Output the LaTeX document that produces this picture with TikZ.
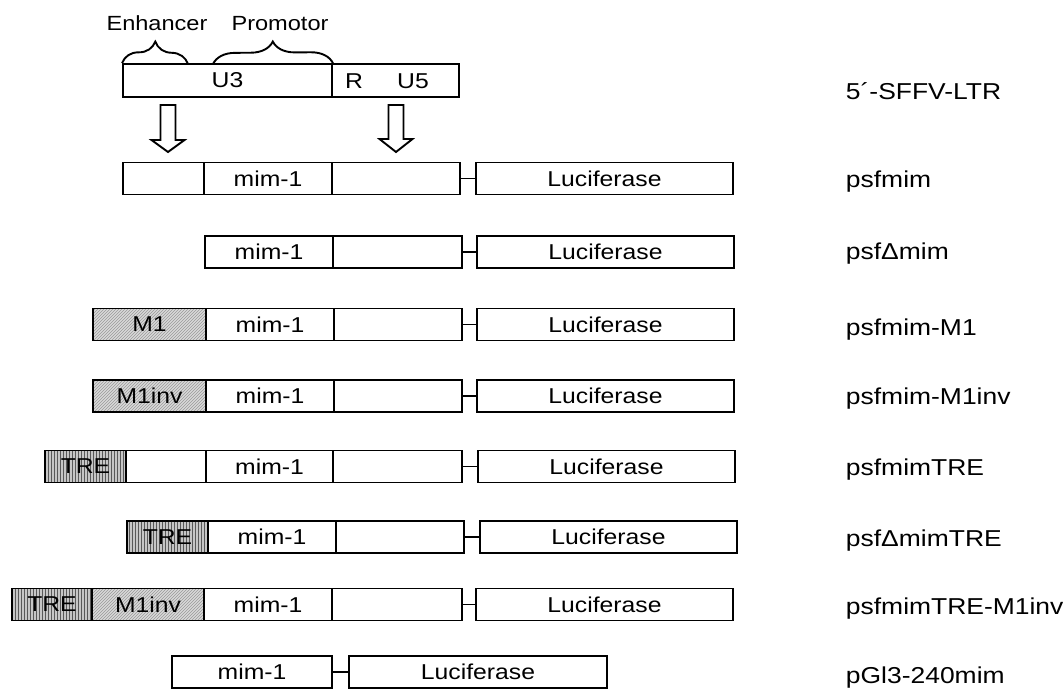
\documentclass[tikz,border=0pt]{standalone}
\usepackage{fontspec}
\setmainfont{Liberation Sans}[FakeStretch=1.15]
\usetikzlibrary{patterns,decorations.pathreplacing}
\begin{document}
\begin{tikzpicture}[x=1pt,y=-1pt,line width=1.9pt,
  seg/.style={draw,rectangle,inner sep=0pt,minimum height=32pt,font=\fontsize{21.5}{24}\selectfont},
  hatchM/.style={preaction={fill=gray!30},pattern=north east lines,pattern color=gray!80},
  hatchT/.style={preaction={fill=gray!45},pattern=vertical lines,pattern color=gray!70!black},
  lab/.style={anchor=base west,inner sep=0pt,font=\fontsize{23}{26}\selectfont},
  toplab/.style={anchor=base,inner sep=0pt,font=\fontsize{20.5}{24}\selectfont},
  blockarrow/.style={draw,line width=1.9pt,fill=white},
  link/.style={draw,line width=1.9pt}]
\useasboundingbox (0,0) rectangle (1063,689);

% 5'-LTR
\node[seg,minimum height=32.5pt,minimum width=209pt] (ltrU) at (227.5,80.3) {U3};
\node[seg,minimum height=32.5pt,minimum width=127pt] (ltrR) at (395.5,80.3) {};
\node[toplab,font=\fontsize{21.5}{24}\selectfont] (tR) at (354,88) {R};
\node[toplab,font=\fontsize{21.5}{24}\selectfont] (tU5) at (413,88) {U5};
\coordinate (enhE) at (188,64);
\coordinate (proS) at (213,64);
\draw[decorate,decoration={brace,amplitude=22pt}] (ltrU.north west) -- (enhE);
\draw[decorate,decoration={brace,amplitude=22pt}] (proS) -- (ltrU.north east);
\node[toplab] (tEnh) at (157,30) {Enhancer};
\node[toplab] (tPro) at (280,30) {Promotor};

% block arrows
\foreach \c/\hb in {168/140,396/139}{
  \draw[blockarrow] (\c-7.5,105) -- (\c+7.5,105) -- (\c+7.5,\hb) -- (\c+16.5,\hb)
     -- (\c,152) -- (\c-16.5,\hb) -- (\c-7.5,\hb) -- cycle;
}

% row 1 psfmim
\node[seg,minimum width=81pt] (r1a) at (163.5,178.5) {};
\node[seg,minimum width=128pt] (r1m) at (268,178.5) {mim-1};
\node[seg,minimum width=128pt] (r1b) at (396,178.5) {};
\node[seg,minimum width=257pt] (r1l) at (604.5,178.5) {Luciferase};
\draw[link] (r1b.east) -- (r1l.west);

% row 2 psfDmim
\node[seg,minimum width=128pt] (r2m) at (269,252) {mim-1};
\node[seg,minimum width=129pt] (r2b) at (397.5,252) {};
\node[seg,minimum width=257pt] (r2l) at (605.5,252) {Luciferase};
\draw[link] (r2b.east) -- (r2l.west);

% row 3 psfmim-M1
\node[seg,hatchM,minimum width=113pt] (r3h) at (149.5,324.5) {M1};
\node[seg,minimum width=128pt] (r3m) at (270,324.5) {mim-1};
\node[seg,minimum width=128pt] (r3b) at (398,324.5) {};
\node[seg,minimum width=257pt] (r3l) at (605.5,324.5) {Luciferase};
\draw[link] (r3b.east) -- (r3l.west);

% row 4 psfmim-M1inv
\node[seg,hatchM,minimum width=113pt] (r4h) at (149.5,396) {M1inv};
\node[seg,minimum width=128pt] (r4m) at (270,396) {mim-1};
\node[seg,minimum width=128pt] (r4b) at (398,396) {};
\node[seg,minimum width=257pt] (r4l) at (605.5,396) {Luciferase};
\draw[link] (r4b.east) -- (r4l.west);

% row 5 psfmimTRE
\node[seg,hatchT,minimum width=81pt] (r5t) at (85.5,466.5) {TRE};
\node[seg,minimum width=80pt] (r5a) at (166,466.5) {};
\node[seg,minimum width=127pt] (r5m) at (269.5,466.5) {mim-1};
\node[seg,minimum width=129pt] (r5b) at (397.5,466.5) {};
\node[seg,minimum width=257pt] (r5l) at (606.5,466.5) {Luciferase};
\draw[link] (r5b.east) -- (r5l.west);

% row 6 psfDmimTRE
\node[seg,hatchT,minimum width=81pt] (r6t) at (167.5,537) {TRE};
\node[seg,minimum width=128pt] (r6m) at (272,537) {mim-1};
\node[seg,minimum width=128pt] (r6b) at (400,537) {};
\node[seg,minimum width=257pt] (r6l) at (608.5,537) {Luciferase};
\draw[link] (r6b.east) -- (r6l.west);

% row 7 psfmimTRE-M1inv
\node[seg,hatchT,minimum width=80pt] (r7t) at (52,604.5) {TRE};
\node[seg,hatchM,minimum width=112pt] (r7h) at (148,604.5) {M1inv};
\node[seg,minimum width=128pt] (r7m) at (268,604.5) {mim-1};
\node[seg,minimum width=130pt] (r7b) at (397,604.5) {};
\node[seg,minimum width=257pt] (r7l) at (604.5,604.5) {Luciferase};
\draw[link] (r7b.east) -- (r7l.west);

% row 8 pGl3-240mim
\node[seg,minimum width=160pt] (r8m) at (252,672) {mim-1};
\node[seg,minimum width=258pt] (r8l) at (478,672) {Luciferase};
\draw[link] (r8m.east) -- (r8l.west);

% labels
\node[lab] (n0) at (845,99) {5´-SFFV-LTR};
\node[lab] (n1) at (845,187) {psfmim};
\node[lab] (n2) at (845,259) {psfΔmim};
\node[lab] (n3) at (845,335) {psfmim-M1};
\node[lab] (n4) at (845,404) {psfmim-M1inv};
\node[lab] (n5) at (845,475) {psfmimTRE};
\node[lab] (n6) at (845,546) {psfΔmimTRE};
\node[lab] (n7) at (845,614) {psfmimTRE-M1inv};
\node[lab] (n8) at (845,683) {pGl3-240mim};
\end{tikzpicture}
\end{document}
